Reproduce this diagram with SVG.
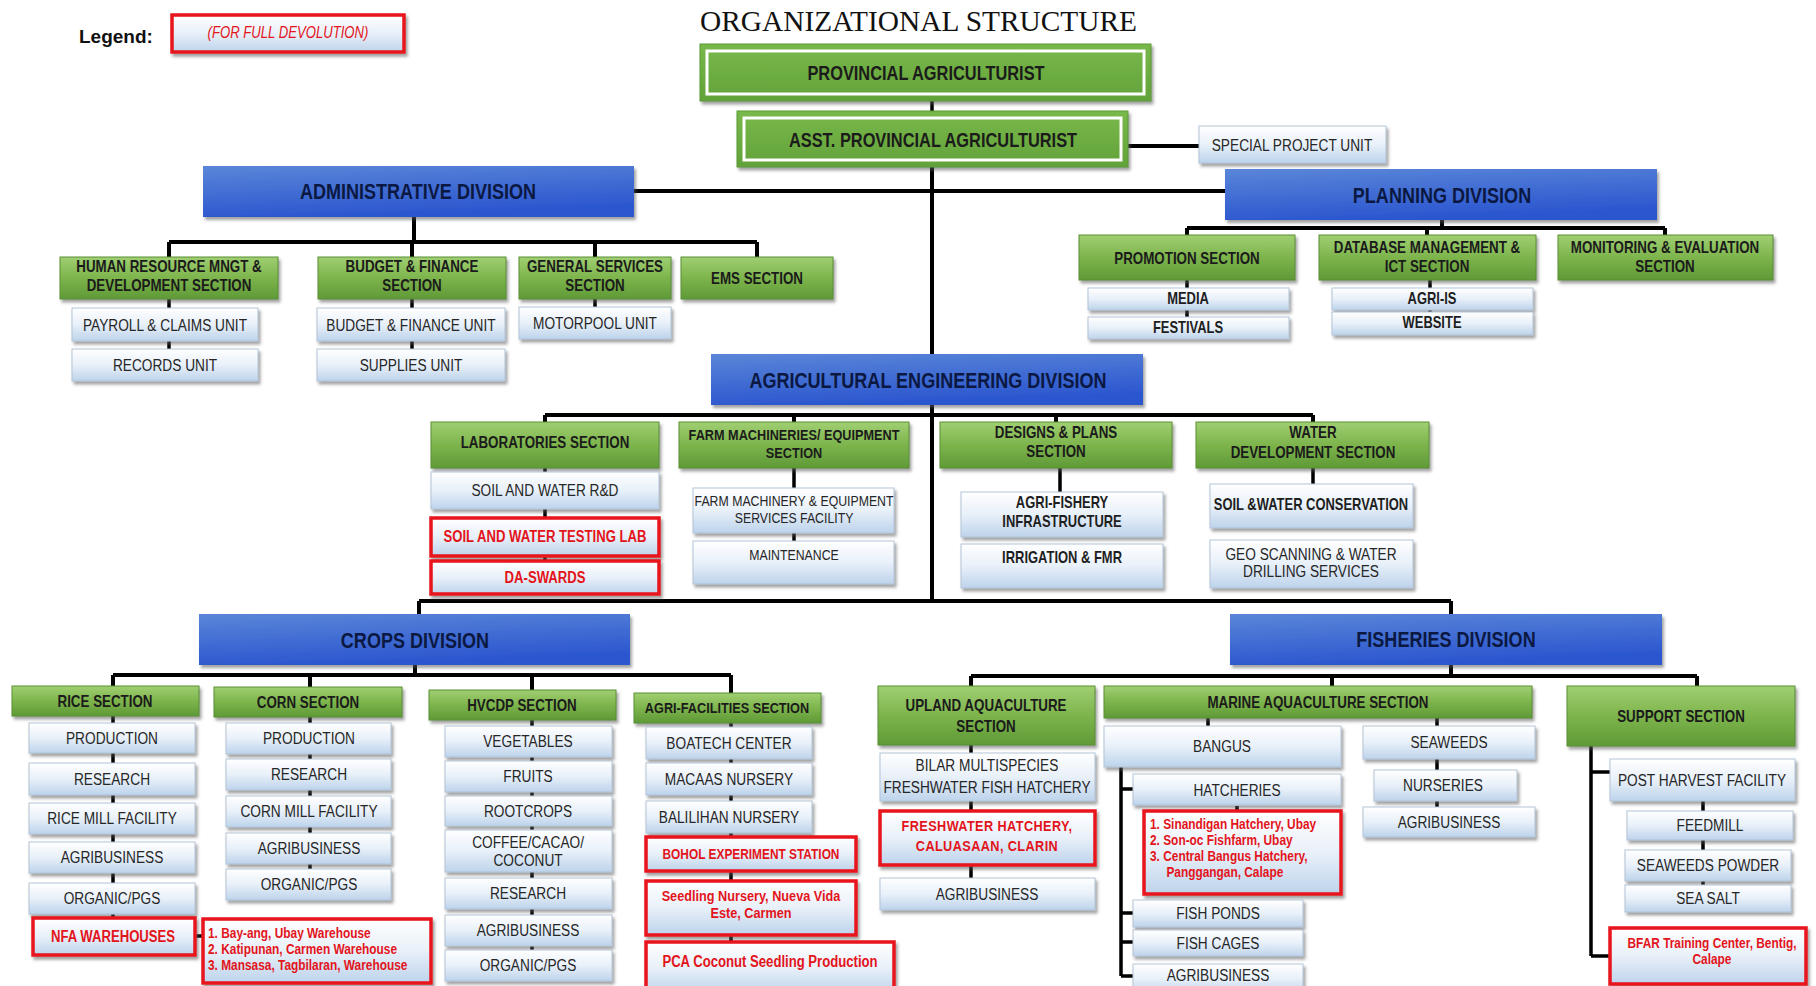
<svg xmlns="http://www.w3.org/2000/svg" width="1816" height="986" viewBox="0 0 1816 986">
<style>
.ln{stroke:#000;stroke-width:4;fill:none}
.ln3{stroke:#000;stroke-width:3.5;fill:none}
.g{fill:url(#gG);stroke:#5b8f35;stroke-width:1;filter:url(#sh)}
.p{fill:url(#gP);stroke:#5a9a35;stroke-width:1;filter:url(#sh)}
.pi{fill:none;stroke:#fff;stroke-width:3}
.b{fill:url(#gB);filter:url(#sh)}
.u{fill:url(#gU);stroke:#b3c4d6;stroke-width:1;filter:url(#sh)}
.r{fill:url(#gU);stroke:#e8121b;stroke-width:3.5;filter:url(#sh)}
text{font-family:"Liberation Sans",Arial,sans-serif;text-anchor:middle;transform-box:fill-box;transform-origin:center;transform:scaleX(0.82)}
.s{font-weight:bold;font-size:16.3px;fill:#1b1b1b}
.s15{font-weight:bold;font-size:15.5px;fill:#1b1b1b}
.d{font-weight:bold;font-size:22px;fill:#0b1842}
.t{font-size:16.7px;fill:#262626}
.tb{font-weight:bold;font-size:15.8px;fill:#1e1e1e}
.rt{font-weight:bold;font-size:15.5px;fill:#e3141b}
.rl{font-weight:bold;font-size:14.5px;fill:#e3141b;text-anchor:start;transform-origin:left center}
.plain{transform:none}
</style>
<defs>
<linearGradient id="gG" x1="0" y1="0" x2="0" y2="1"><stop offset="0" stop-color="#a0cf72"/><stop offset="0.5" stop-color="#7db44c"/><stop offset="1" stop-color="#5f9a37"/></linearGradient>
<linearGradient id="gP" x1="0" y1="0" x2="0" y2="1"><stop offset="0" stop-color="#79b84a"/><stop offset="1" stop-color="#62a23a"/></linearGradient>
<linearGradient id="gB" x1="0" y1="0" x2="0.3" y2="1"><stop offset="0" stop-color="#5a86d8"/><stop offset="1" stop-color="#2b56cf"/></linearGradient>
<linearGradient id="gU" x1="0" y1="0" x2="0" y2="1"><stop offset="0" stop-color="#ffffff"/><stop offset="0.5" stop-color="#e8f0f9"/><stop offset="1" stop-color="#bdd3eb"/></linearGradient>
<filter id="sh" x="-5%" y="-10%" width="115%" height="150%"><feDropShadow dx="2" dy="3" stdDeviation="1.5" flood-color="#555" flood-opacity="0.55"/></filter>
</defs>
<rect width="1816" height="986" fill="#fff"/>

<g id="connectors">
<path class="ln3" d="M932 101V111"/>
<path class="ln" d="M932 167V354M932 405V601M1128 146H1199M634 191H1225"/>
<path class="ln" d="M414 217V242M169 242H757M169 242V257M412 242V257M595 242V257M757 242V257"/>
<path class="ln3" d="M169 299V349M412 299V349M595 299V307"/>
<path class="ln" d="M1442 220V228M1187 228H1665M1187 228V235M1427 228V235M1665 228V235"/>
<path class="ln3" d="M1187 280V317M1430 280V312"/>
<path class="ln" d="M545 415H1313M545 415V422M794 415V422M1056 415V422M1313 415V422"/>
<path class="ln3" d="M545 468V561M794 468V541M1060 468V492M1313 468V484"/>
<path class="ln" d="M419 601H1451M419 601V614M1451 601V614"/>
<path class="ln" d="M415 665V675M113 675H731M113 675V686M310 675V687M532 675V690M731 675V693"/>
<path class="ln3" d="M113 716V917M310 717V869M532 720V950M731 723V942M195 936H203"/>
<path class="ln" d="M1451 665V676M971 676H1697M971 676V686M1332 676V686M1697 676V686"/>
<path class="ln3" d="M971 745V878M1208 718V726M1121 767V976M1121 789H1133M1121 913H1133M1121 942H1133M1121 976H1133M1237 806V811M1437 718V807"/>
<path class="ln3" d="M1591 746V956M1591 772H1610M1591 956H1610M1703 801V885"/>
</g>

<g id="legend">
<text class="plain" x="79" y="43" style="font-weight:bold;font-size:19px;fill:#111;text-anchor:start">Legend:</text>
<rect class="r" x="172" y="15" width="232" height="37"/>
<text class="rt" x="288" y="38" style="font-style:italic;font-weight:normal;font-size:16px">(FOR FULL DEVOLUTION)</text>
</g>
<text id="title" class="plain" x="700" y="31" textLength="437" lengthAdjust="spacingAndGlyphs" style="font-family:'Liberation Serif',serif;font-size:30px;fill:#111;text-anchor:start">ORGANIZATIONAL  STRUCTURE</text>

<g id="provincial"><rect class="p" x="700" y="44" width="451" height="57"/><rect class="pi" x="707" y="51" width="437" height="43"/><text class="s" style="font-size:20px" x="926" y="80">PROVINCIAL AGRICULTURIST</text></g>
<g id="asst"><rect class="p" x="737" y="111" width="391" height="56"/><rect class="pi" x="744" y="118" width="377" height="42"/><text class="s" style="font-size:20px" x="933" y="147">ASST. PROVINCIAL AGRICULTURIST</text></g>
<g id="spu"><rect class="u" x="1199" y="126" width="187" height="37"/><text class="t" x="1292" y="151">SPECIAL PROJECT UNIT</text></g>

<g id="admin"><rect class="b" x="203" y="166" width="431" height="51"/><text class="d" x="418" y="199">ADMINISTRATIVE DIVISION</text></g>
<g id="planning"><rect class="b" x="1225" y="169" width="432" height="51"/><text class="d" x="1442" y="203">PLANNING DIVISION</text></g>

<g id="hr"><rect class="g" x="60" y="257" width="218" height="42"/><text class="s" x="169" y="272">HUMAN RESOURCE MNGT &amp;<tspan x="169" y="291">DEVELOPMENT SECTION</tspan></text></g>
<g id="bfs"><rect class="g" x="318" y="257" width="188" height="42"/><text class="s" x="412" y="272">BUDGET &amp; FINANCE<tspan x="412" y="291">SECTION</tspan></text></g>
<g id="gss"><rect class="g" x="519" y="257" width="152" height="42"/><text class="s" x="595" y="272">GENERAL SERVICES<tspan x="595" y="291">SECTION</tspan></text></g>
<g id="ems"><rect class="g" x="681" y="257" width="152" height="42"/><text class="s" x="757" y="284">EMS SECTION</text></g>
<g id="payroll"><rect class="u" x="72" y="308" width="186" height="33"/><text class="t" x="165" y="331">PAYROLL &amp; CLAIMS UNIT</text></g>
<g id="records"><rect class="u" x="72" y="349" width="186" height="32"/><text class="t" x="165" y="371">RECORDS UNIT</text></g>
<g id="bfu"><rect class="u" x="317" y="308" width="188" height="33"/><text class="t" x="411" y="331">BUDGET &amp; FINANCE UNIT</text></g>
<g id="supplies"><rect class="u" x="317" y="349" width="188" height="32"/><text class="t" x="411" y="371">SUPPLIES UNIT</text></g>
<g id="motorpool"><rect class="u" x="519" y="307" width="152" height="32"/><text class="t" x="595" y="329">MOTORPOOL UNIT</text></g>

<g id="promotion"><rect class="g" x="1079" y="235" width="216" height="45"/><text class="s" x="1187" y="264">PROMOTION SECTION</text></g>
<g id="database"><rect class="g" x="1319" y="235" width="217" height="45"/><text class="s" x="1427" y="253">DATABASE MANAGEMENT &amp;<tspan x="1427" y="272">ICT SECTION</tspan></text></g>
<g id="monitoring"><rect class="g" x="1558" y="235" width="215" height="45"/><text class="s" x="1665" y="253">MONITORING &amp; EVALUATION<tspan x="1665" y="272">SECTION</tspan></text></g>
<g id="media"><rect class="u" x="1088" y="288" width="201" height="22"/><text class="tb" x="1188" y="304">MEDIA</text></g>
<g id="festivals"><rect class="u" x="1088" y="317" width="201" height="22"/><text class="tb" x="1188" y="333">FESTIVALS</text></g>
<g id="agriis"><rect class="u" x="1332" y="288" width="201" height="22"/><text class="tb" x="1432" y="304">AGRI-IS</text></g>
<g id="website"><rect class="u" x="1332" y="312" width="201" height="23"/><text class="tb" x="1432" y="328">WEBSITE</text></g>

<g id="aed"><rect class="b" x="711" y="354" width="432" height="51"/><text class="d" x="928" y="388">AGRICULTURAL ENGINEERING DIVISION</text></g>
<g id="lab"><rect class="g" x="431" y="422" width="228" height="46"/><text class="s" x="545" y="448">LABORATORIES SECTION</text></g>
<g id="farmmach"><rect class="g" x="679" y="422" width="230" height="46"/><text class="s15" x="794" y="440">FARM MACHINERIES/ EQUIPMENT<tspan x="794" y="458">SECTION</tspan></text></g>
<g id="designs"><rect class="g" x="940" y="422" width="232" height="46"/><text class="s" x="1056" y="438">DESIGNS &amp; PLANS<tspan x="1056" y="457">SECTION</tspan></text></g>
<g id="water"><rect class="g" x="1196" y="422" width="233" height="46"/><text class="s" x="1313" y="438">WATER<tspan x="1313" y="458">DEVELOPMENT SECTION</tspan></text></g>
<g id="swrd"><rect class="u" x="431" y="472" width="228" height="37"/><text class="t" x="545" y="496">SOIL AND WATER R&amp;D</text></g>
<g id="swtl"><rect class="r" x="431" y="518" width="228" height="38"/><text class="rt" style="font-size:16px" x="545" y="542">SOIL AND WATER TESTING LAB</text></g>
<g id="daswards"><rect class="r" x="431" y="561" width="228" height="33"/><text class="rt" style="font-size:16px" x="545" y="583">DA-SWARDS</text></g>
<g id="fmesf"><rect class="u" x="693" y="488" width="201" height="45"/><text class="t" style="font-size:15px" x="794" y="506">FARM MACHINERY &amp; EQUIPMENT<tspan x="794" y="523">SERVICES FACILITY</tspan></text></g>
<g id="maintenance"><rect class="u" x="693" y="541" width="201" height="43"/><text class="t" style="font-size:15px" x="794" y="560">MAINTENANCE</text></g>
<g id="afi"><rect class="u" x="961" y="492" width="202" height="45"/><text class="tb" x="1062" y="508">AGRI-FISHERY<tspan x="1062" y="527">INFRASTRUCTURE</tspan></text></g>
<g id="irrig"><rect class="u" x="961" y="544" width="202" height="44"/><text class="tb" x="1062" y="563">IRRIGATION &amp; FMR</text></g>
<g id="swc"><rect class="u" x="1210" y="484" width="203" height="44"/><text class="tb" x="1311" y="510">SOIL &amp;WATER CONSERVATION</text></g>
<g id="geo"><rect class="u" x="1210" y="540" width="203" height="48"/><text class="t" x="1311" y="560">GEO SCANNING &amp; WATER<tspan x="1311" y="577">DRILLING SERVICES</tspan></text></g>

<g id="crops"><rect class="b" x="199" y="614" width="431" height="51"/><text class="d" x="415" y="648">CROPS DIVISION</text></g>
<g id="fisheries"><rect class="b" x="1230" y="614" width="432" height="51"/><text class="d" x="1446" y="647">FISHERIES DIVISION</text></g>

<g id="rice"><rect class="g" x="12" y="686" width="187" height="30"/><text class="s" x="105" y="707">RICE SECTION</text></g>
<g id="corn"><rect class="g" x="214" y="687" width="188" height="30"/><text class="s" x="308" y="708">CORN SECTION</text></g>
<g id="hvcdp"><rect class="g" x="429" y="690" width="187" height="30"/><text class="s" x="522" y="711">HVCDP SECTION</text></g>
<g id="agrifac"><rect class="g" x="634" y="693" width="187" height="30"/><text class="s15" x="727" y="713">AGRI-FACILITIES SECTION</text></g>

<g id="rice-prod"><rect class="u" x="29" y="723" width="166" height="30"/><text class="t" x="112" y="744">PRODUCTION</text></g>
<g id="rice-res"><rect class="u" x="29" y="763" width="166" height="32"/><text class="t" x="112" y="785">RESEARCH</text></g>
<g id="rice-mill"><rect class="u" x="29" y="803" width="166" height="31"/><text class="t" x="112" y="824">RICE MILL FACILITY</text></g>
<g id="rice-agri"><rect class="u" x="29" y="842" width="166" height="31"/><text class="t" x="112" y="863">AGRIBUSINESS</text></g>
<g id="rice-org"><rect class="u" x="29" y="883" width="166" height="31"/><text class="t" x="112" y="904">ORGANIC/PGS</text></g>
<g id="nfa"><rect class="r" x="33" y="918" width="162" height="37"/><text class="rt" style="font-size:16px" x="113" y="942">NFA WAREHOUSES</text></g>
<g id="nfa-list"><rect class="r" x="203" y="919" width="228" height="64"/><text class="rl" x="208" y="938">1. Bay-ang, Ubay Warehouse<tspan x="208" y="954">2. Katipunan, Carmen Warehouse</tspan><tspan x="208" y="970">3. Mansasa, Tagbilaran, Warehouse</tspan></text></g>

<g id="corn-prod"><rect class="u" x="226" y="723" width="165" height="31"/><text class="t" x="309" y="744">PRODUCTION</text></g>
<g id="corn-res"><rect class="u" x="226" y="759" width="165" height="31"/><text class="t" x="309" y="780">RESEARCH</text></g>
<g id="corn-mill"><rect class="u" x="226" y="796" width="165" height="31"/><text class="t" x="309" y="817">CORN MILL FACILITY</text></g>
<g id="corn-agri"><rect class="u" x="226" y="833" width="165" height="31"/><text class="t" x="309" y="854">AGRIBUSINESS</text></g>
<g id="corn-org"><rect class="u" x="226" y="869" width="165" height="31"/><text class="t" x="309" y="890">ORGANIC/PGS</text></g>

<g id="hv-veg"><rect class="u" x="445" y="726" width="167" height="31"/><text class="t" x="528" y="747">VEGETABLES</text></g>
<g id="hv-fruits"><rect class="u" x="445" y="761" width="167" height="31"/><text class="t" x="528" y="782">FRUITS</text></g>
<g id="hv-root"><rect class="u" x="445" y="796" width="167" height="30"/><text class="t" x="528" y="817">ROOTCROPS</text></g>
<g id="hv-coffee"><rect class="u" x="445" y="830" width="167" height="42"/><text class="t" x="528" y="848">COFFEE/CACAO/<tspan x="528" y="866">COCONUT</tspan></text></g>
<g id="hv-res"><rect class="u" x="445" y="878" width="167" height="31"/><text class="t" x="528" y="899">RESEARCH</text></g>
<g id="hv-agri"><rect class="u" x="445" y="915" width="167" height="31"/><text class="t" x="528" y="936">AGRIBUSINESS</text></g>
<g id="hv-org"><rect class="u" x="445" y="950" width="167" height="31"/><text class="t" x="528" y="971">ORGANIC/PGS</text></g>

<g id="af-boatech"><rect class="u" x="646" y="727" width="166" height="32"/><text class="t" x="729" y="749">BOATECH CENTER</text></g>
<g id="af-macaas"><rect class="u" x="646" y="763" width="166" height="32"/><text class="t" x="729" y="785">MACAAS NURSERY</text></g>
<g id="af-balilihan"><rect class="u" x="646" y="801" width="166" height="32"/><text class="t" x="729" y="823">BALILIHAN NURSERY</text></g>
<g id="af-bohol"><rect class="r" x="646" y="837" width="210" height="34"/><text class="rt" style="font-size:14.5px" x="751" y="859">BOHOL EXPERIMENT STATION</text></g>
<g id="af-seedling"><rect class="r" x="646" y="881" width="210" height="54"/><text class="rt" x="751" y="901">Seedling Nursery, Nueva Vida<tspan x="751" y="918">Este, Carmen</tspan></text></g>
<g id="af-pca"><rect class="r" x="646" y="942" width="248" height="52"/><text class="rt" style="font-size:16px" x="770" y="967">PCA Coconut Seedling Production</text></g>

<g id="upland"><rect class="g" x="878" y="686" width="217" height="59"/><text class="s" x="986" y="711">UPLAND AQUACULTURE<tspan x="986" y="732">SECTION</tspan></text></g>
<g id="marine"><rect class="g" x="1104" y="686" width="428" height="32"/><text class="s" x="1318" y="708">MARINE AQUACULTURE SECTION</text></g>
<g id="support"><rect class="g" x="1567" y="686" width="228" height="60"/><text class="s" x="1681" y="722">SUPPORT SECTION</text></g>

<g id="bilar"><rect class="u" x="880" y="753" width="215" height="48"/><text class="t" x="987" y="771">BILAR MULTISPECIES<tspan x="987" y="793">FRESHWATER FISH HATCHERY</tspan></text></g>
<g id="clarin"><rect class="r" x="880" y="811" width="215" height="54"/><text class="rt" style="letter-spacing:0.5px" x="987" y="831">FRESHWATER HATCHERY,<tspan x="987" y="851">CALUASAAN, CLARIN</tspan></text></g>
<g id="up-agri"><rect class="u" x="880" y="878" width="215" height="32"/><text class="t" x="987" y="900">AGRIBUSINESS</text></g>

<g id="bangus"><rect class="u" x="1104" y="726" width="237" height="41"/><text class="t" x="1222" y="752">BANGUS</text></g>
<g id="hatcheries"><rect class="u" x="1133" y="774" width="208" height="31"/><text class="t" x="1237" y="796">HATCHERIES</text></g>
<g id="hatch-list"><rect class="r" x="1144" y="811" width="197" height="83"/><text class="rl" x="1150" y="829">1. Sinandigan Hatchery, Ubay<tspan x="1150" y="845">2. Son-oc Fishfarm, Ubay</tspan><tspan x="1150" y="861">3. Central Bangus Hatchery,</tspan><tspan x="1170" y="877">Panggangan, Calape</tspan></text></g>
<g id="ponds"><rect class="u" x="1133" y="900" width="170" height="27"/><text class="t" x="1218" y="919">FISH PONDS</text></g>
<g id="cages"><rect class="u" x="1133" y="930" width="170" height="26"/><text class="t" x="1218" y="949">FISH CAGES</text></g>
<g id="mar-agri"><rect class="u" x="1133" y="964" width="170" height="30"/><text class="t" x="1218" y="981">AGRIBUSINESS</text></g>
<g id="seaweeds"><rect class="u" x="1363" y="726" width="172" height="33"/><text class="t" x="1449" y="748">SEAWEEDS</text></g>
<g id="nurseries"><rect class="u" x="1374" y="770" width="143" height="31"/><text class="t" x="1443" y="791">NURSERIES</text></g>
<g id="sw-agri"><rect class="u" x="1363" y="807" width="172" height="30"/><text class="t" x="1449" y="828">AGRIBUSINESS</text></g>

<g id="phf"><rect class="u" x="1610" y="759" width="185" height="42"/><text class="t" x="1702" y="786">POST HARVEST FACILITY</text></g>
<g id="feedmill"><rect class="u" x="1627" y="811" width="166" height="29"/><text class="t" x="1710" y="831">FEEDMILL</text></g>
<g id="swpowder"><rect class="u" x="1625" y="850" width="166" height="31"/><text class="t" x="1708" y="871">SEAWEEDS POWDER</text></g>
<g id="seasalt"><rect class="u" x="1625" y="885" width="166" height="27"/><text class="t" x="1708" y="904">SEA SALT</text></g>
<g id="bfar"><rect class="r" x="1610" y="928" width="196" height="56"/><text class="rt" style="font-size:14.5px" x="1712" y="948">BFAR Training Center, Bentig,<tspan x="1712" y="964">Calape</tspan></text></g>
</svg>
